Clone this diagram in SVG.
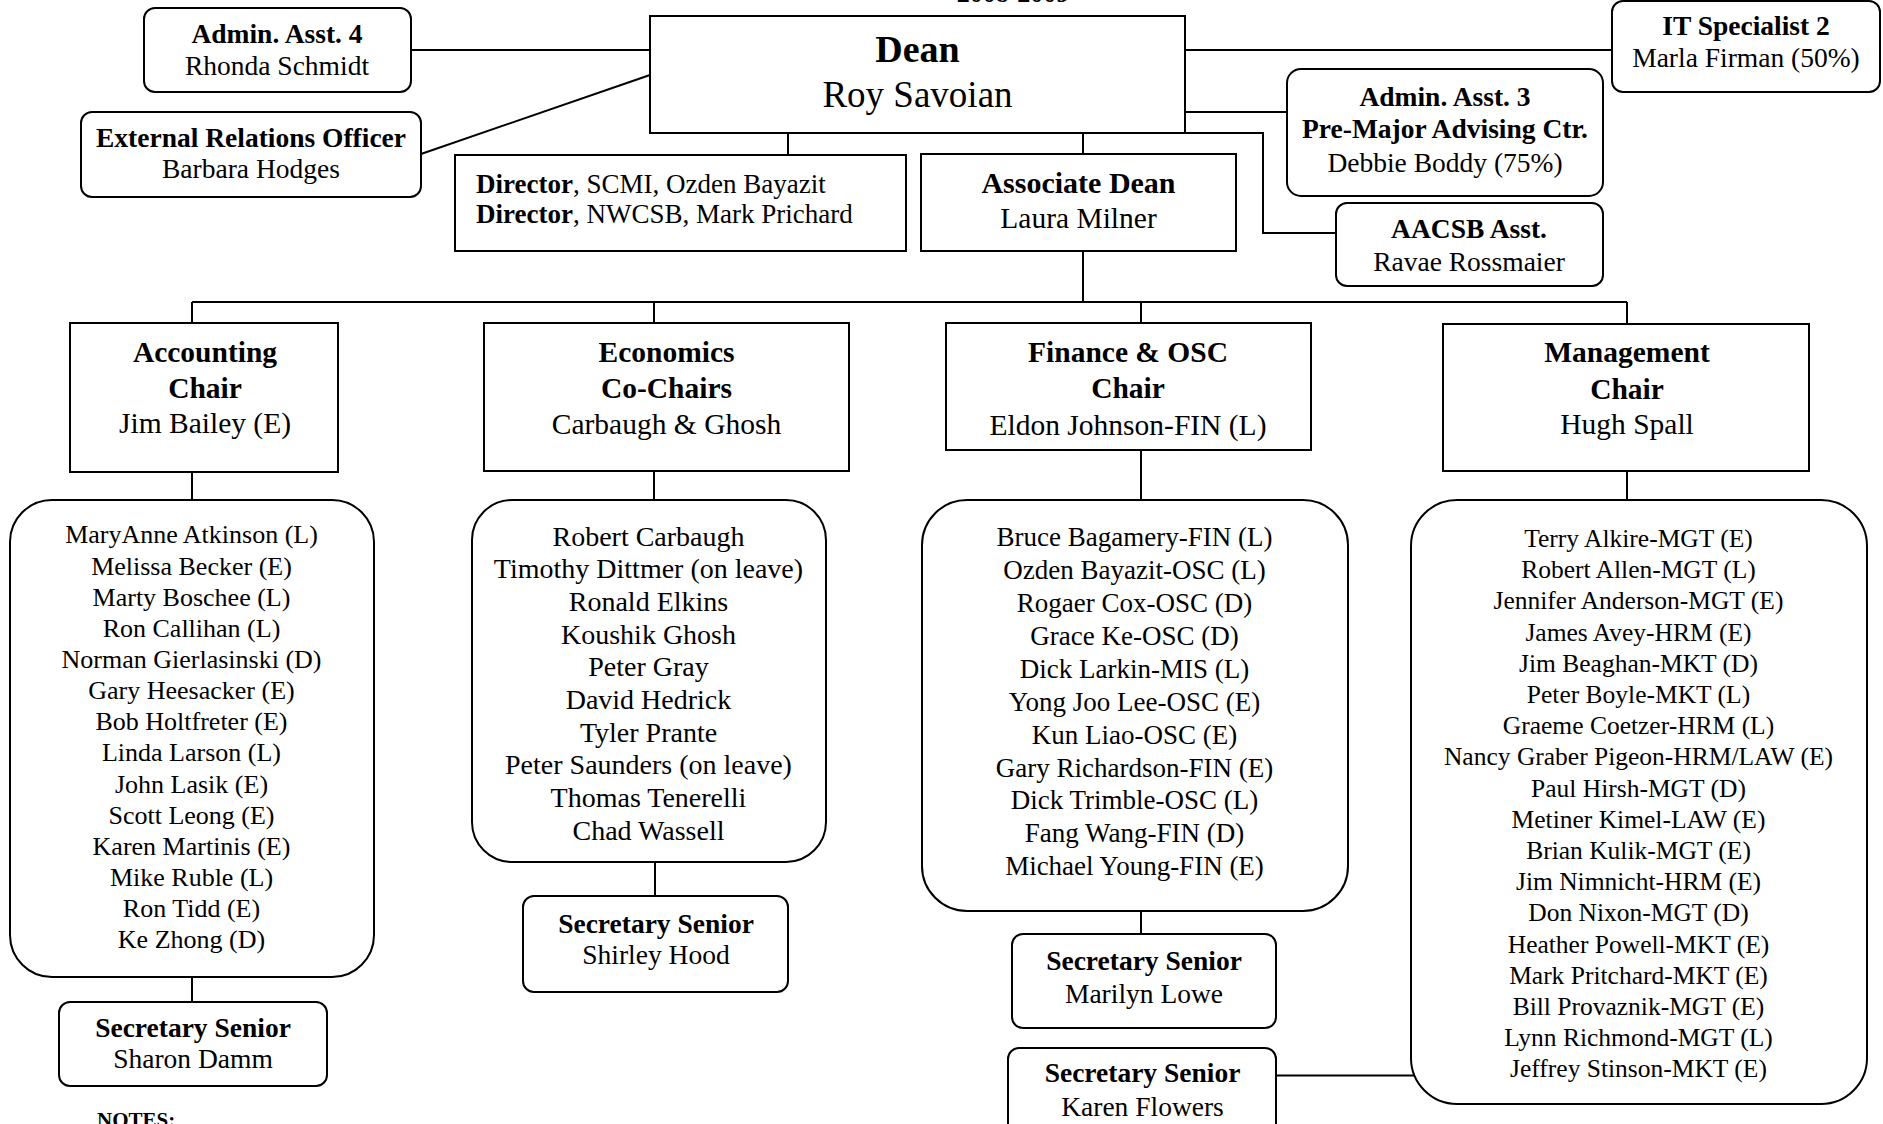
<svg xmlns="http://www.w3.org/2000/svg" width="1883" height="1124" viewBox="0 0 1883 1124">
<style>
  .bx{fill:#fff;stroke:#000;stroke-width:2}
  .cn{fill:none;stroke:#000;stroke-width:2}
  text{font-family:"Liberation Serif","Times New Roman",serif;fill:#000;text-anchor:middle}
  .b{font-weight:bold}
  .s{font-size:27.5px}
  .hd{font-size:29.5px}
  .acct{font-size:26px}
  .econ{font-size:28px}
  .fin{font-size:27px}
  .mgmt{font-size:25.5px}
</style>
<rect width="1883" height="1124" fill="#fff"/>
<text class="b" x="1013" y="2" style="font-size:26px">2008-2009</text>
<g id="connectors">
  <path class="cn" d="M411,50H650"/>
  <path class="cn" d="M421,154L650,75"/>
  <path class="cn" d="M1185,50H1612"/>
  <path class="cn" d="M1185,112H1287"/>
  <path class="cn" d="M1185,133H1263V233H1336"/>
  <path class="cn" d="M788,133V155"/>
  <path class="cn" d="M1083,133V154"/>
  <path class="cn" d="M1083,251V302"/>
  <path class="cn" d="M192,302H1627"/>
  <path class="cn" d="M192,302V323"/>
  <path class="cn" d="M654,302V323"/>
  <path class="cn" d="M1141,302V323"/>
  <path class="cn" d="M1627,302V324"/>
  <path class="cn" d="M192,472V500"/>
  <path class="cn" d="M192,977V1002"/>
  <path class="cn" d="M654,471V500"/>
  <path class="cn" d="M655,862V896"/>
  <path class="cn" d="M1141,450V500"/>
  <path class="cn" d="M1141,911V934"/>
  <path class="cn" d="M1627,471V500"/>
  <path class="cn" d="M1276,1075.5H1425"/>
</g>
<g id="admin4">
  <rect class="bx" x="144" y="8" width="267" height="84" rx="11"/>
  <text class="s b" x="277" y="43">Admin. Asst. 4</text>
  <text class="s" x="277" y="75">Rhonda Schmidt</text>
</g>
<g id="extrel">
  <rect class="bx" x="81" y="112" width="340" height="85" rx="11"/>
  <text class="s b" x="251" y="147">External Relations Officer</text>
  <text class="s" x="251" y="178">Barbara Hodges</text>
</g>
<g id="dean">
  <rect class="bx" x="650" y="16" width="535" height="117"/>
  <text class="b" x="917.5" y="62" style="font-size:38px">Dean</text>
  <text x="917.5" y="107" style="font-size:37px">Roy Savoian</text>
</g>
<g id="directors">
  <rect class="bx" x="455" y="155" width="451" height="96"/>
  <text class="s" x="476" y="193" style="text-anchor:start;font-size:27px"><tspan class="b">Director</tspan>, SCMI, Ozden Bayazit</text>
  <text class="s" x="476" y="223" style="text-anchor:start;font-size:27px"><tspan class="b">Director</tspan>, NWCSB, Mark Prichard</text>
</g>
<g id="assocdean">
  <rect class="bx" x="921" y="154" width="315" height="97"/>
  <text class="b" x="1078.5" y="193" style="font-size:30px">Associate Dean</text>
  <text x="1078.5" y="228" style="font-size:29.5px">Laura Milner</text>
</g>
<g id="itspec">
  <rect class="bx" x="1612" y="1" width="268" height="91" rx="11"/>
  <text class="s b" x="1746" y="35">IT Specialist 2</text>
  <text class="s" x="1746" y="67">Marla Firman (50%)</text>
</g>
<g id="admin3">
  <rect class="bx" x="1287" y="69" width="316" height="127" rx="14"/>
  <text class="s b" x="1445" y="106">Admin. Asst. 3</text>
  <text class="s b" x="1445" y="138">Pre-Major Advising Ctr.</text>
  <text class="s" x="1445" y="172">Debbie Boddy (75%)</text>
</g>
<g id="aacsb">
  <rect class="bx" x="1336" y="203" width="267" height="83" rx="11"/>
  <text class="s b" x="1469" y="238">AACSB Asst.</text>
  <text class="s" x="1469" y="271">Ravae Rossmaier</text>
</g>
<g id="acct-chair">
  <rect class="bx" x="70" y="323" width="268" height="149"/>
  <text class="hd b" x="205" y="362">Accounting</text>
  <text class="hd b" x="205" y="398">Chair</text>
  <text class="hd" x="205" y="433">Jim Bailey (E)</text>
</g>
<g id="econ-chair">
  <rect class="bx" x="484" y="323" width="365" height="148"/>
  <text class="hd b" x="666.5" y="362">Economics</text>
  <text class="hd b" x="666.5" y="398">Co-Chairs</text>
  <text class="hd" x="666.5" y="434">Carbaugh &amp; Ghosh</text>
</g>
<g id="fin-chair">
  <rect class="bx" x="946" y="323" width="365" height="127"/>
  <text class="hd b" x="1128" y="362">Finance &amp; OSC</text>
  <text class="hd b" x="1128" y="398">Chair</text>
  <text class="hd" x="1128" y="435">Eldon Johnson-FIN (L)</text>
</g>
<g id="mgmt-chair">
  <rect class="bx" x="1443" y="324" width="366" height="147"/>
  <text class="hd b" x="1627" y="362">Management</text>
  <text class="hd b" x="1627" y="399">Chair</text>
  <text class="hd" x="1627" y="434">Hugh Spall</text>
</g>
<g id="acct-faculty">
  <rect class="bx" x="10" y="500" width="364" height="477" rx="42"/>
  <text class="acct" x="191.5" y="543.3">MaryAnne Atkinson (L)</text>
  <text class="acct" x="191.5" y="574.5">Melissa Becker (E)</text>
  <text class="acct" x="191.5" y="605.6">Marty Boschee (L)</text>
  <text class="acct" x="191.5" y="636.8">Ron Callihan (L)</text>
  <text class="acct" x="191.5" y="667.9">Norman Gierlasinski (D)</text>
  <text class="acct" x="191.5" y="699.1">Gary Heesacker (E)</text>
  <text class="acct" x="191.5" y="730.2">Bob Holtfreter (E)</text>
  <text class="acct" x="191.5" y="761.4">Linda Larson (L)</text>
  <text class="acct" x="191.5" y="792.5">John Lasik (E)</text>
  <text class="acct" x="191.5" y="823.7">Scott Leong (E)</text>
  <text class="acct" x="191.5" y="854.8">Karen Martinis (E)</text>
  <text class="acct" x="191.5" y="886">Mike Ruble (L)</text>
  <text class="acct" x="191.5" y="917.1">Ron Tidd (E)</text>
  <text class="acct" x="191.5" y="948.3">Ke Zhong (D)</text>
</g>
<g id="acct-secretary">
  <rect class="bx" x="59" y="1002" width="268" height="84" rx="11"/>
  <text class="s b" x="193" y="1037">Secretary Senior</text>
  <text class="s" x="193" y="1068">Sharon Damm</text>
</g>
<g id="econ-faculty">
  <rect class="bx" x="472" y="500" width="354" height="362" rx="40"/>
  <text class="econ" x="648.5" y="545.5">Robert Carbaugh</text>
  <text class="econ" x="648.5" y="578.2">Timothy Dittmer (on leave)</text>
  <text class="econ" x="648.5" y="610.9">Ronald Elkins</text>
  <text class="econ" x="648.5" y="643.6">Koushik Ghosh</text>
  <text class="econ" x="648.5" y="676.3">Peter Gray</text>
  <text class="econ" x="648.5" y="709">David Hedrick</text>
  <text class="econ" x="648.5" y="741.7">Tyler Prante</text>
  <text class="econ" x="648.5" y="774.4">Peter Saunders (on leave)</text>
  <text class="econ" x="648.5" y="807.1">Thomas Tenerelli</text>
  <text class="econ" x="648.5" y="839.8">Chad Wassell</text>
</g>
<g id="econ-secretary">
  <rect class="bx" x="523" y="896" width="265" height="96" rx="11"/>
  <text class="s b" x="656" y="933">Secretary Senior</text>
  <text class="s" x="656" y="964">Shirley Hood</text>
</g>
<g id="fin-faculty">
  <rect class="bx" x="922" y="500" width="426" height="411" rx="45"/>
  <text class="fin" x="1134.5" y="545.8">Bruce Bagamery-FIN (L)</text>
  <text class="fin" x="1134.5" y="578.8">Ozden Bayazit-OSC (L)</text>
  <text class="fin" x="1134.5" y="611.7">Rogaer Cox-OSC (D)</text>
  <text class="fin" x="1134.5" y="644.7">Grace Ke-OSC (D)</text>
  <text class="fin" x="1134.5" y="677.6">Dick Larkin-MIS (L)</text>
  <text class="fin" x="1134.5" y="710.6">Yong Joo Lee-OSC (E)</text>
  <text class="fin" x="1134.5" y="743.5">Kun Liao-OSC (E)</text>
  <text class="fin" x="1134.5" y="776.5">Gary Richardson-FIN (E)</text>
  <text class="fin" x="1134.5" y="809.4">Dick Trimble-OSC (L)</text>
  <text class="fin" x="1134.5" y="842.4">Fang Wang-FIN (D)</text>
  <text class="fin" x="1134.5" y="875.3">Michael Young-FIN (E)</text>
</g>
<g id="fin-secretary-1">
  <rect class="bx" x="1012" y="934" width="264" height="94" rx="11"/>
  <text class="s b" x="1144" y="969.5">Secretary Senior</text>
  <text class="s" x="1144" y="1002.5">Marilyn Lowe</text>
</g>
<g id="fin-secretary-2">
  <rect class="bx" x="1008" y="1048" width="268" height="95" rx="11"/>
  <text class="s b" x="1142.5" y="1082">Secretary Senior</text>
  <text class="s" x="1142.5" y="1116">Karen Flowers</text>
</g>
<g id="mgmt-faculty">
  <rect class="bx" x="1411" y="500" width="456" height="604" rx="46"/>
  <text class="mgmt" x="1638.5" y="547">Terry Alkire-MGT (E)</text>
  <text class="mgmt" x="1638.5" y="578.2">Robert Allen-MGT (L)</text>
  <text class="mgmt" x="1638.5" y="609.4">Jennifer Anderson-MGT (E)</text>
  <text class="mgmt" x="1638.5" y="640.6">James Avey-HRM (E)</text>
  <text class="mgmt" x="1638.5" y="671.8">Jim Beaghan-MKT (D)</text>
  <text class="mgmt" x="1638.5" y="703">Peter Boyle-MKT (L)</text>
  <text class="mgmt" x="1638.5" y="734.2">Graeme Coetzer-HRM (L)</text>
  <text class="mgmt" x="1638.5" y="765.4">Nancy Graber Pigeon-HRM/LAW (E)</text>
  <text class="mgmt" x="1638.5" y="796.6">Paul Hirsh-MGT (D)</text>
  <text class="mgmt" x="1638.5" y="827.8">Metiner Kimel-LAW (E)</text>
  <text class="mgmt" x="1638.5" y="859">Brian Kulik-MGT (E)</text>
  <text class="mgmt" x="1638.5" y="890.2">Jim Nimnicht-HRM (E)</text>
  <text class="mgmt" x="1638.5" y="921.4">Don Nixon-MGT (D)</text>
  <text class="mgmt" x="1638.5" y="952.6">Heather Powell-MKT (E)</text>
  <text class="mgmt" x="1638.5" y="983.8">Mark Pritchard-MKT (E)</text>
  <text class="mgmt" x="1638.5" y="1015">Bill Provaznik-MGT (E)</text>
  <text class="mgmt" x="1638.5" y="1046.2">Lynn Richmond-MGT (L)</text>
  <text class="mgmt" x="1638.5" y="1077.4">Jeffrey Stinson-MKT (E)</text>
</g>
<text class="b" x="97" y="1127" style="text-anchor:start;font-size:21px">NOTES:</text>
</svg>
